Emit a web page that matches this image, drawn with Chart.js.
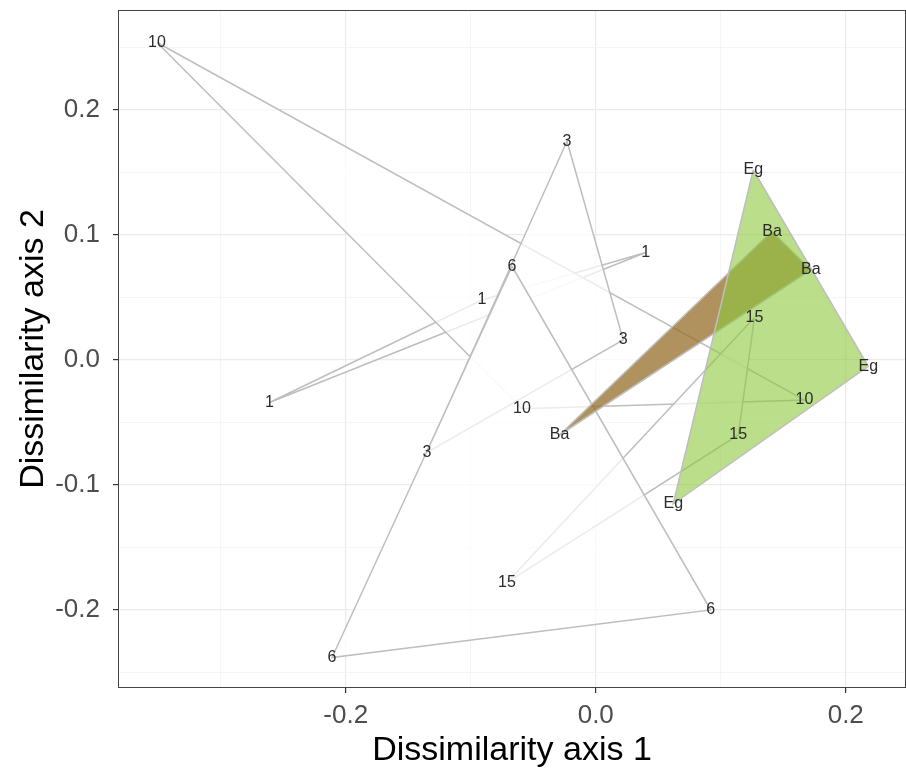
<!DOCTYPE html>
<html>
<head>
<meta charset="utf-8">
<script src="https://cdn.jsdelivr.net/npm/chart.js@4.4.1/dist/chart.umd.min.js"></script>
<style>
    html, body { margin: 0; padding: 0; background: #ffffff; }
    #wrap { width: 906px; height: 783px; }
</style>
</head>
<body>
<div id="wrap"><canvas id="nmdsChart" width="906" height="783"></canvas></div>
<script>
// three sites per group, groups listed in drawing order
const groups = ['1', '10', '15', '3', '6', 'Ba', 'Eg'];
const siteGroup = [
    '1', '1', '1',
    '10', '10', '10',
    '15', '15', '15',
    '3', '3', '3',
    '6', '6', '6',
    'Ba', 'Ba', 'Ba',
    'Eg', 'Eg', 'Eg'
];
const axis1 = [
    -0.261, -0.091, 0.040,
    -0.351, -0.059, 0.167,
    0.127, 0.114, -0.071,
    -0.023, 0.022, -0.135,
    -0.067, 0.092, -0.211,
    -0.029, 0.141, 0.172,
    0.126, 0.218, 0.062
];
const axis2 = [
    -0.034, 0.048, 0.086,
    0.254, -0.039, -0.032,
    0.034, -0.060, -0.178,
    0.175, 0.016, -0.074,
    0.075, -0.200, -0.238,
    -0.060, 0.103, 0.072,
    0.152, -0.005, -0.115
];
const xTicks = [-0.3, -0.2, -0.1, 0.0, 0.1, 0.2];
const yTicks = [-0.25, -0.2, -0.15, -0.1, -0.05, 0.0, 0.05, 0.1, 0.15, 0.2, 0.25];
const xLabelled = [-0.2, 0.0, 0.2];
const yLabelled = [-0.2, -0.1, 0.0, 0.1, 0.2];

const fillColours = {
    '1': 'rgba(255,255,255,0.7)',
    '10': 'rgba(255,255,255,0.7)',
    '15': 'rgba(255,255,255,0.7)',
    '3': 'rgba(255,255,255,0.7)',
    '6': 'rgba(255,255,255,0.7)',
    'Ba': 'rgba(150,110,40,0.75)',
    'Eg': 'rgba(140,200,60,0.6)'
};

const FONT = '"Liberation Sans", Arial, sans-serif';
const isLabelled = (list, v) => list.some(t => Math.abs(t - v) < 1e-9);

const datasets = groups.map((g, gi) => {
    const pts = [];
    siteGroup.forEach((s, i) => {
        if (s === g) pts.push({ x: axis1[i], y: axis2[i] });
    });
    pts.push(pts[0]); // close the triangle
    return {
        label: g,
        data: pts,
        order: groups.length - gi, // later groups on top
        borderColor: '#BEBEBE',
        borderWidth: 1.5,
        backgroundColor: fillColours[g],
        fill: 'shape',
        tension: 0,
        pointRadius: 0,
        pointHoverRadius: 0
    };
});

const siteLabels = {
    id: 'siteLabels',
    afterDatasetsDraw(chart) {
        const { ctx, chartArea, scales: { x, y } } = chart;
        ctx.save();
        ctx.strokeStyle = '#444444';
        ctx.lineWidth = 1;
        ctx.strokeRect(chartArea.left - 0.5, chartArea.top - 0.5,
            chartArea.right - chartArea.left + 1, chartArea.bottom - chartArea.top + 1);
        ctx.font = '16px ' + FONT;
        ctx.fillStyle = '#2b2b2b';
        ctx.textAlign = 'center';
        ctx.textBaseline = 'middle';
        siteGroup.forEach((g, i) => {
            ctx.fillText(g, x.getPixelForValue(axis1[i]), y.getPixelForValue(axis2[i]));
        });
        ctx.restore();
    }
};

const gridOpts = list => ({
    color: c => isLabelled(list, c.tick.value) ? '#EBEBEB' : '#F3F3F3',
    lineWidth: c => isLabelled(list, c.tick.value) ? 1.2 : 0.8,
    tickColor: c => isLabelled(list, c.tick.value) ? '#333333' : 'rgba(0,0,0,0)',
    tickLength: 6,
    tickWidth: 1.2
});

new Chart(document.getElementById('nmdsChart').getContext('2d'), {
    type: 'line',
    data: { datasets },
    plugins: [siteLabels],
    options: {
        responsive: false,
        animation: false,
        events: [],
        layout: { padding: { left: 0, top: 11, right: 1, bottom: 0 } },
        plugins: {
            legend: { display: false },
            tooltip: { enabled: false }
        },
        scales: {
            x: {
                type: 'linear',
                min: -0.3814,
                max: 0.2474,
                afterBuildTicks: s => { s.ticks = xTicks.map(v => ({ value: v })); },
                afterFit: s => { s.height = 96; s.paddingLeft = 0; s.paddingRight = 0; },
                border: { display: false },
                grid: gridOpts(xLabelled),
                ticks: {
                    autoSkip: false,
                    maxRotation: 0,
                    padding: 7,
                    color: '#4D4D4D',
                    font: { family: FONT, size: 26 },
                    callback: v => isLabelled(xLabelled, v) ? v.toFixed(1) : ''
                },
                title: {
                    display: true,
                    text: 'Dissimilarity axis 1',
                    color: '#000000',
                    font: { family: FONT, size: 34 },
                    padding: { top: 0, bottom: 12 }
                }
            },
            y: {
                type: 'linear',
                min: -0.2616,
                max: 0.2792,
                afterBuildTicks: s => { s.ticks = yTicks.map(v => ({ value: v })); },
                afterFit: s => { s.width = 119; s.paddingTop = 0; s.paddingBottom = 0; },
                border: { display: false },
                grid: gridOpts(yLabelled),
                ticks: {
                    autoSkip: false,
                    padding: 13,
                    color: '#4D4D4D',
                    font: { family: FONT, size: 26 },
                    callback: v => isLabelled(yLabelled, v) ? v.toFixed(1) : ''
                },
                title: {
                    display: true,
                    text: 'Dissimilarity axis 2',
                    color: '#000000',
                    font: { family: FONT, size: 34 },
                    padding: { top: 13, bottom: 0 }
                }
            }
        }
    }
});
</script>
</body>
</html>
